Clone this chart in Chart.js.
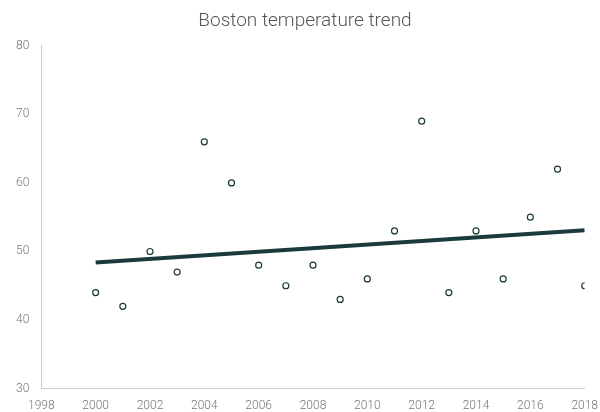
<!DOCTYPE html>
<html>
<head>
<meta charset="utf-8">
<script src="https://cdn.jsdelivr.net/npm/chart.js@4"></script>
<style>
  html, body { margin: 0; padding: 0; background: #fff; }
  #wrap { width: 600px; height: 412px; }
</style>
</head>
<body>
<div id="wrap"><canvas id="chart"></canvas></div>
<script>
// Données
const YEARS = [2000, 2001, 2002, 2003, 2004, 2005, 2006, 2007, 2008, 2009, 2010, 2011, 2012, 2013, 2014, 2015, 2016, 2017, 2018];
const TEMPS = [44, 42, 50, 47, 66, 60, 48, 45, 48, 43, 46, 53, 69, 44, 53, 46, 55, 62, 45];
const TREND_YEARS = [2000, 2018];
const TREND_TEMPS = [48.4, 53.1];

const DARK = '#1b3a3c';
const FONT = { family: 'Roboto', weight: 300, size: 12 };

const ctx = document.getElementById('chart').getContext('2d');

new Chart(ctx, {
  type: 'scatter',
  data: {
    datasets: [
      {
        label: 'Trend',
        type: 'line',
        data: TREND_YEARS.map((x, i) => ({ x: x, y: TREND_TEMPS[i] })),
        borderColor: DARK,
        borderWidth: 4,
        pointRadius: 0,
        fill: false
      },
      {
        label: 'Temperature',
        data: YEARS.map((x, i) => ({ x: x, y: TEMPS[i] })),
        borderColor: DARK,
        backgroundColor: '#ffffff',
        borderWidth: 1.2,
        pointRadius: 3,
        showLine: false
      }
    ]
  },
  options: {
    responsive: true,
    maintainAspectRatio: false,
    animation: false,
    layout: { padding: { left: 12, right: 2, top: 0, bottom: -3 } },
    scales: {
      x: {
        type: 'linear',
        min: 1998,
        max: 2018,
        grid: { display: false },
        border: { display: true, color: '#cccccc' },
        ticks: {
          stepSize: 2,
          color: '#777777',
          font: FONT,
          padding: 2,
          callback: v => String(v)
        }
      },
      y: {
        min: 30,
        max: 80,
        grid: { display: false },
        border: { display: true, color: '#cccccc' },
        ticks: {
          stepSize: 10,
          color: '#777777',
          font: FONT,
          padding: 4
        }
      }
    },
    plugins: {
      legend: { display: false },
      tooltip: { enabled: false },
      title: {
        display: true,
        text: 'Boston temperature trend',
        color: '#555555',
        font: { family: 'Roboto', weight: 300, size: 19 },
        padding: { top: 10, bottom: 13 }
      }
    }
  }
});
</script>
</body>
</html>
